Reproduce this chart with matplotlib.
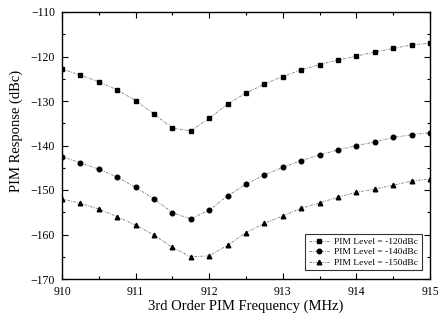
import matplotlib
matplotlib.use("Agg")
import matplotlib.pyplot as plt
from matplotlib.ticker import MultipleLocator

freq = [910.0, 910.25, 910.5, 910.75, 911.0, 911.25, 911.5, 911.75, 912.0, 912.25, 912.5,
        912.75, 913.0, 913.25, 913.5, 913.75, 914.0, 914.25, 914.5, 914.75, 915.0]
pim_120 = [-122.8, -124.2, -125.7, -127.5, -129.9, -132.9, -136.1, -136.7, -133.9, -130.7, -128.2,
           -126.2, -124.5, -123.0, -121.8, -120.8, -119.9, -119.0, -118.2, -117.4, -117.0]
pim_140 = [-142.5, -143.9, -145.3, -147.1, -149.4, -152.0, -155.1, -156.5, -154.5, -151.3, -148.7,
           -146.6, -144.9, -143.4, -142.1, -141.0, -140.0, -139.2, -138.2, -137.6, -137.1]
pim_150 = [-152.0, -153.0, -154.3, -156.0, -157.9, -160.1, -162.9, -165.0, -164.8, -162.4, -159.6,
           -157.5, -155.8, -154.1, -152.9, -151.6, -150.5, -149.8, -148.9, -148.0, -147.5]
labels = ["PIM Level = -120dBc", "PIM Level = -140dBc", "PIM Level = -150dBc"]
markers = ["s", "o", "^"]

plt.rcParams['font.family'] = ['Liberation Serif', 'DejaVu Serif']

fig = plt.figure(figsize=(4.38, 3.2), dpi=100)
ax = fig.add_axes([62/438, 1 - 279/320, (430 - 62)/438, (279 - 12)/320])

for ys, m, lab in zip([pim_120, pim_140, pim_150], markers, labels):
    ax.plot(freq, ys, linestyle=(0, (3, 1.5, 1, 1.5)), color="#777777", linewidth=0.6,
            marker=m, markersize=3.3, markerfacecolor="black", markeredgecolor="black",
            label=lab)

ax.set_xlim(910, 915)
ax.set_ylim(-170, -110)
ax.xaxis.set_major_locator(MultipleLocator(1))
ax.xaxis.set_minor_locator(MultipleLocator(0.5))
ax.yaxis.set_major_locator(MultipleLocator(10))
ax.yaxis.set_minor_locator(MultipleLocator(5))
ax.tick_params(which="both", direction="in", top=True, right=True, labelsize=8.5, width=0.8)
ax.tick_params(which="major", length=4, pad=5)
ax.tick_params(which="minor", length=2.5)
for s in ax.spines.values():
    s.set_linewidth(1.0)

ax.set_xlabel("3rd Order PIM Frequency (MHz)", fontsize=10.5, labelpad=1)
ax.set_ylabel("PIM Response (dBc)", fontsize=10.5)
ax.yaxis.set_label_coords(-0.105, 0.555)

leg = ax.legend(loc="lower right", fontsize=6.8, frameon=True, fancybox=False, edgecolor="black",
                handlelength=2.2, borderpad=0.35, labelspacing=0.2, handletextpad=0.5,
                bbox_to_anchor=(0.99, 0.015))
leg.get_frame().set_linewidth(0.8)

fig.savefig("out.png", dpi=100)
